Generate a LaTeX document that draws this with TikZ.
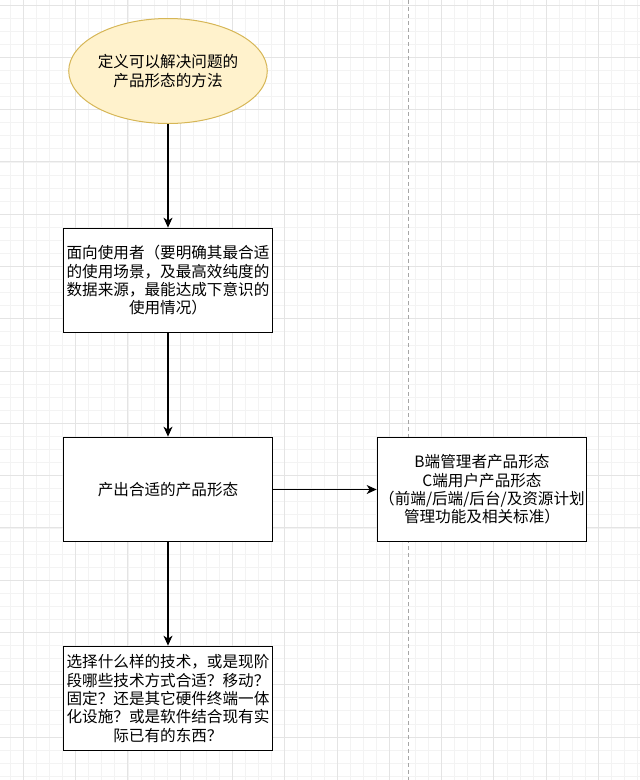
\documentclass[tikz,border=0pt]{standalone}
\usepackage{fontspec}
\setmainfont{Noto Sans CJK SC}
\usetikzlibrary{shapes,arrows.meta,positioning}
\definecolor{noteFill}{HTML}{FFF2CC}
\definecolor{noteLine}{HTML}{D6B656}
\definecolor{gridMinor}{HTML}{F3F3F3}
\definecolor{gridMajor}{HTML}{E4E4E4}
\tikzstyle{box} = [rectangle, minimum width=209pt, minimum height=104.5pt, inner sep=2pt, align=center, fill=white, draw=black, line width=1.2pt, font=\fontsize{15.6pt}{18.3pt}\selectfont]
\tikzstyle{goal} = [ellipse, minimum width=158pt, minimum height=105pt, inner sep=0pt, align=center, fill=noteFill, draw=noteLine, line width=1pt, font=\fontsize{15.6pt}{18.3pt}\selectfont]
\tikzstyle{arrow} = [draw, line width=1.2pt, -{Stealth[length=10pt,width=9pt,inset=3pt]}]

\begin{document}
\begin{tikzpicture}[x=1pt, y=-1pt, node distance=209pt]
        \useasboundingbox (0,0) rectangle (640,780);
        % grid
        \foreach \i in {0,...,49} {
            \draw [gridMinor, line width=0.6pt] ({10.2+13.07*\i},0) -- ({10.2+13.07*\i},780);
        }
        \foreach \i in {0,...,59} {
            \draw [gridMinor, line width=0.6pt] (0,{5+13.07*\i}) -- (640,{5+13.07*\i});
        }
        \foreach \i in {0,...,12} {
            \draw [gridMajor, line width=0.8pt] ({23.3+52.28*\i},0) -- ({23.3+52.28*\i},780);
        }
        \foreach \i in {0,...,14} {
            \draw [gridMajor, line width=0.8pt] (0,{5+52.28*\i}) -- (640,{5+52.28*\i});
        }
        \coordinate (sepTop) at (408,0);
        \coordinate (sepBot) at (408,780);
        \draw [gray!70, line width=1pt, dash pattern=on 4pt off 3pt] (sepTop) -- (sepBot);

        \node (goal) [goal] at (168,71) {定义可以解决问题的\\产品形态的方法};
        \node (users) [box, below of=goal, yshift=-0.5pt] {面向使用者（要明确其最合适\\的使用场景，及最高效纯度的\\数据来源，最能达成下意识的\\使用情况）};
        \node (output) [box, below of=users] {产出合适的产品形态};
        \node (forms) [box, right of=output, xshift=105pt] {B端管理者产品形态\\C端用户产品形态\\（前端/后端/后台/及资源计划\\管理功能及相关标准）};
        \node (tech) [box, below of=output] {选择什么样的技术，或是现阶\\段哪些技术方式合适？移动？\\固定？还是其它硬件终端一体\\化设施？或是软件结合现有实\\际已有的东西？};

        \path [arrow] (goal) -- (users);
        \path [arrow] (users) -- (output);
        \path [arrow] (output) -- (forms);
        \path [arrow] (output) -- (tech);
    \end{tikzpicture}
\end{document}
